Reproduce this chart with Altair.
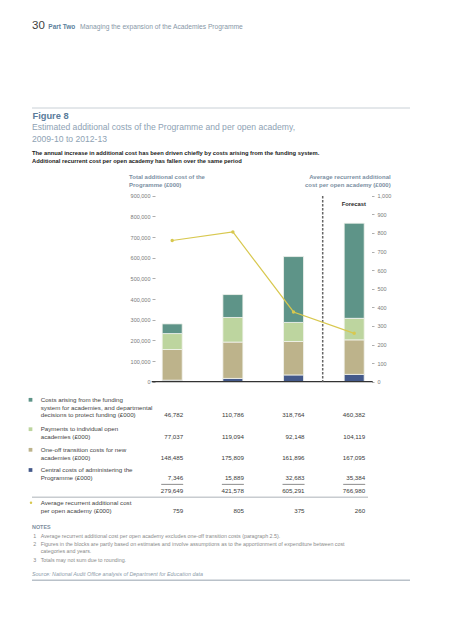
import altair as alt
import pandas as pd

# ---------------- data ----------------
years = ["2009-10", "2010-11", "2011-12", "2012-13"]
funding_system = [46782, 110786, 318764, 460382]
payments_open = [77037, 119094, 92148, 104119]
one_off = [148485, 175809, 161896, 167095]
central = [7346, 15889, 32683, 35384]
totals = [279649, 421578, 605291, 766980]
avg_cost = [759, 805, 375, 260]

series_names = ["Central costs", "One-off transition", "Payments to open academies", "Funding system"]
series_values = [central, one_off, payments_open, funding_system]
series_colors = ["#44598a", "#bdb38b", "#bdd59f", "#5e9488"]

row_labels = [
    ["Costs arising from the funding", "system for academies, and departmental", "decisions to protect funding (£000)"],
    ["Payments to individual open", "academies (£000)"],
    ["One-off transition costs for new", "academies (£000)"],
    ["Central costs of administering the", "Programme (£000)"],
]
line_label = ["Average recurrent additional cost", "per open academy (£000)"]
notes = [
    ("1", ["Average recurrent additional cost per open academy excludes one-off transition costs (paragraph 2.5)."]),
    ("2", ["Figures in the blocks are partly based on estimates and involve assumptions as to the apportionment of expenditure between cost",
           "categories and years."]),
    ("3", ["Totals may not sum due to rounding."]),
]

FONT = "Liberation Sans, Arial, Helvetica, sans-serif"
LINE_COLOR = "#d8c84f"
M = 8  # page margin
W, H = 437, 624
Y_RANGE = [381.7 - M, 195.7 - M]
X_RANGE = [172.2 - 30.33 - M, 354.2 + 30.33 - M]

bar_rows = []
for s, (name, vals) in enumerate(zip(series_names, series_values)):
    for yr, v in zip(years, vals):
        bar_rows.append({"year": yr, "series": name, "value": v, "ord": s})
bar_df = pd.DataFrame(bar_rows)
line_df = pd.DataFrame({"year": years, "avg": avg_cost})
one = pd.DataFrame({"k": [0]})

x_scale = alt.Scale(domain=years, range=X_RANGE, paddingInner=0, paddingOuter=0)
X_plain = alt.X("year:N", sort=years, scale=x_scale, axis=None)


def T(text, x, y, size=6.2, color="#3a3a3a", weight="normal", align="left", italic=False):
    return alt.Chart(one).mark_text(
        align=align, baseline="middle", fontSize=size, font=FONT, fontWeight=weight,
        fontStyle="italic" if italic else "normal", color=color,
    ).encode(x=alt.value(x - M), y=alt.value(y - M), text=alt.value(text))


def R(x1, x2, y, color="#c9d0d6", width=1.0):
    return alt.Chart(one).mark_rule(color=color, strokeWidth=width).encode(
        x=alt.value(x1 - M), x2=alt.value(x2 - M), y=alt.value(y - M))


bars = alt.Chart(bar_df).mark_bar(size=20, stroke="#f3f4ee", strokeWidth=0.8).encode(
    x=alt.X("year:N", sort=years, scale=x_scale,
            axis=alt.Axis(orient="bottom", offset=(381.7 - M) - H, domain=False, ticks=False,
                          labelAngle=0, labelFontSize=6.2, labelColor="#555", labelPadding=5,
                          labelFont=FONT, title=None, grid=False)),
    y=alt.Y("value:Q", stack="zero",
            scale=alt.Scale(domain=[0, 900000], range=Y_RANGE, nice=False, zero=True),
            axis=alt.Axis(orient="left", offset=-(155 - M), values=list(range(0, 900001, 100000)),
                          labelExpr="format(datum.value, ',')", tickSize=3, tickColor="#999", tickWidth=0.8,
                          labelFontSize=5.5, labelColor="#7a7a7a", labelPadding=2, labelFont=FONT,
                          labelFlush=False, labelOverlap=False, domain=False, grid=False, title=None)),
    color=alt.Color("series:N", scale=alt.Scale(domain=series_names, range=series_colors), legend=None),
    order=alt.Order("ord:Q"),
)

line = alt.Chart(line_df).mark_line(
    color=LINE_COLOR, strokeWidth=1.2,
    point=alt.OverlayMarkDef(filled=True, size=12, color=LINE_COLOR),
).encode(
    x=X_plain,
    y=alt.Y("avg:Q", scale=alt.Scale(domain=[0, 1000], range=Y_RANGE, nice=False, zero=True),
            axis=alt.Axis(orient="right", offset=(371.5 - M) - W, values=list(range(0, 1001, 100)),
                          labelExpr="format(datum.value, ',')", tickSize=2.5, tickColor="#999", tickWidth=0.8,
                          labelFontSize=5.5, labelColor="#7a7a7a", labelPadding=3, labelFont=FONT,
                          labelFlush=False, labelOverlap=False, domain=False, grid=False, title=None)),
)

layers = [bars]

# baseline and forecast divider
layers.append(R(151.7, 372.7, 381.7, color="#333333", width=1.2))
layers.append(alt.Chart(one).mark_rule(color="#666666", strokeWidth=1.5, strokeDash=[2.5, 1.5]).encode(
    x=alt.value(322.7 - M), y=alt.value(196 - M), y2=alt.value(381.7 - M)))
layers.append(line)

# header
layers.append(T("30", 32, 25.5, size=11.5, color="#3d3d3d"))
layers.append(T("Part Two", 48.3, 26.7, size=6.5, color="#5d7f9c", weight="bold"))
layers.append(T("Managing the expansion of the Academies Programme", 80, 26.7, size=6.7, color="#8797a7"))
layers.append(R(32, 410, 108, color="#c9d0d6", width=1))
layers.append(T("Figure 8", 32.5, 115.8, size=9.3, color="#5a7c9b", weight="bold"))
layers.append(T("Estimated additional costs of the Programme and per open academy,", 32, 126.5, size=8.6, color="#8ea2b4"))
layers.append(T("2009-10 to 2012-13", 32, 139, size=8.6, color="#8ea2b4"))
layers.append(T("The annual increase in additional cost has been driven chiefly by costs arising from the funding system.",
                32, 153.3, size=5.8, color="#1a1a1a", weight="bold"))
layers.append(T("Additional recurrent cost per open academy has fallen over the same period",
                32, 160.8, size=5.8, color="#1a1a1a", weight="bold"))

# axis titles
layers.append(T("Total additional cost of the", 129, 176.5, size=6.0, color="#7c90a3", weight="bold"))
layers.append(T("Programme (£000)", 129, 184.7, size=6.0, color="#7c90a3", weight="bold"))
layers.append(T("Average recurrent additional", 390.7, 176.5, size=6.0, color="#7c90a3", weight="bold", align="right"))
layers.append(T("cost per open academy (£000)", 390.7, 184.7, size=6.0, color="#7c90a3", weight="bold", align="right"))
layers.append(T("Forecast", 341.7, 204, size=5.8, color="#2b2b2b", weight="bold"))

# table rows
row_ys = [[399.8, 407.6, 415.4], [429.2, 437.0], [449.8, 457.6], [470.0, 478.0]]
row_vals = [funding_system, payments_open, one_off, central]
row_colors = [series_colors[3], series_colors[2], series_colors[1], series_colors[0]]
for labels, ys, vals, col in zip(row_labels, row_ys, row_vals, row_colors):
    layers.append(alt.Chart(one).mark_square(size=14, color=col, opacity=1, filled=True).encode(
        x=alt.value(30.5 - M), y=alt.value(ys[0] - M)))
    for lab, yy in zip(labels, ys):
        layers.append(T(lab, 40.7, yy, size=6.2, color="#444"))
    vdf = pd.DataFrame({"year": years, "v": [f"{v:,}" for v in vals]})
    layers.append(alt.Chart(vdf).mark_text(align="right", baseline="middle", dx=11, fontSize=6.2,
                                           font=FONT, color="#3a3a3a").encode(
        x=X_plain, y=alt.value(ys[-1] - M), text="v:N"))

# underline and totals
layers.append(alt.Chart(pd.DataFrame({"year": years})).mark_tick(
    orient="horizontal", size=22, thickness=0.8, color="#333").encode(
    x=X_plain, y=alt.value(484.3 - M)))
tdf = pd.DataFrame({"year": years, "v": [f"{v:,}" for v in totals]})
layers.append(alt.Chart(tdf).mark_text(align="right", baseline="middle", dx=11, fontSize=6.2,
                                       font=FONT, color="#3a3a3a").encode(
    x=X_plain, y=alt.value(490.8 - M), text="v:N"))
layers.append(R(32, 368, 497.3, color="#c8ccd0", width=1.5))

# line row
layers.append(alt.Chart(one).mark_circle(size=6, color=LINE_COLOR, opacity=1).encode(
    x=alt.value(31 - M), y=alt.value(502.7 - M)))
layers.append(T(line_label[0], 40.7, 502.7, size=6.2, color="#444"))
layers.append(T(line_label[1], 40.7, 511, size=6.2, color="#444"))
adf = pd.DataFrame({"year": years, "v": [f"{v:,}" for v in avg_cost]})
layers.append(alt.Chart(adf).mark_text(align="right", baseline="middle", dx=11, fontSize=6.2,
                                       font=FONT, color="#3a3a3a").encode(
    x=X_plain, y=alt.value(511 - M), text="v:N"))

# notes
layers.append(T("NOTES", 32, 527, size=5.4, color="#7d8fa0", weight="bold"))
note_ys = [[535.5], [544.3, 551.2], [560.3]]
for (num, lines), ys in zip(notes, note_ys):
    layers.append(T(num, 33.3, ys[0], size=5.3, color="#8a8a8a"))
    for ln, yy in zip(lines, ys):
        layers.append(T(ln, 40.7, yy, size=5.3, color="#8a8a8a"))
layers.append(T("Source: National Audit Office analysis of Department for Education data",
                32, 573.8, size=5.4, color="#8d9cab", italic=True))
layers.append(R(32, 410, 580.3, color="#b9c1c9", width=1.5))

chart = alt.layer(*layers).resolve_scale(y="independent").properties(
    width=W, height=H, autosize=alt.AutoSizeParams(type="none"), padding=0,
    background="white",
).configure_view(stroke=None)

chart.save("out.html", embed_options={"renderer": "svg", "actions": False})
